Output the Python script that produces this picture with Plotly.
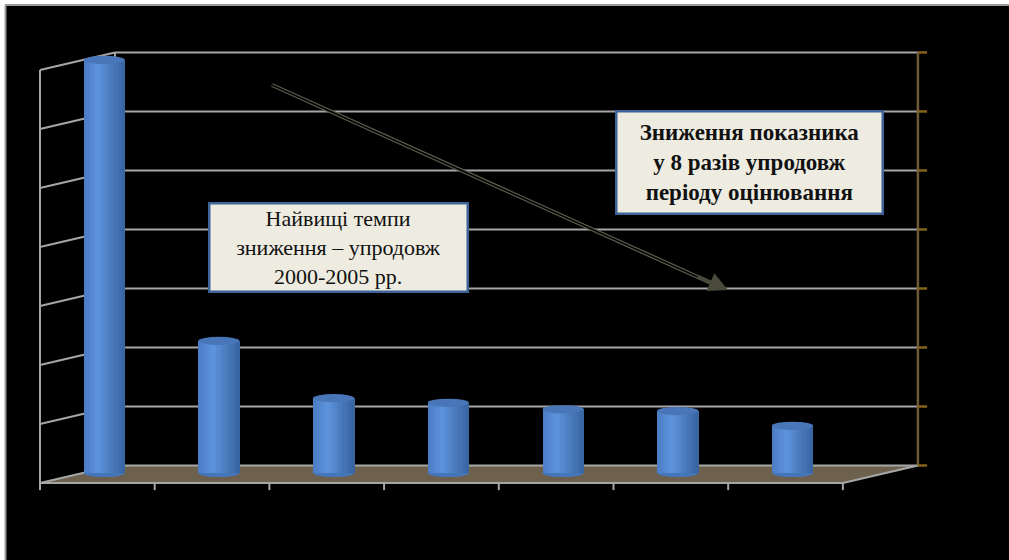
import plotly.graph_objects as go

# ---- data ----
categories = ["2000", "2005", "2008", "2009", "2010", "2011", "2012"]
values = [7.0, 2.24, 1.27, 1.19, 1.08, 1.05, 0.80]
grid_levels = [0, 1, 2, 3, 4, 5, 6, 7]

box1_text = "Найвищі темпи<br>зниження – упродовж<br>2000-2005 рр."
box2_text = "<b>Зниження показника<br>у 8 разів упродовж<br>періоду оцінювання</b>"

# ---- geometry (3D-look frame) ----
DX, DY = 0.654, 0.297      # depth offset of back wall
BASE = 0.17                # bar base level (middle of floor depth)
BAR_W = 0.357
BAR_SHIFT = 0.56
NCAT = len(categories)
XR = [-0.087, 7.803]
YR = [-0.203, 7.508]
ML, MR, MT, MB = 30, 74, 40, 65
W, H = 1009, 560

GRID = "#a6a6a6"
GOLD_LINE = "#6e5a37"
GOLD_TICK = "#846418"
SERIF = "Liberation Serif"

xpos = [i + BAR_SHIFT for i in range(NCAT)]

fig = go.Figure()

def lerp(c1, c2, t):
    return tuple(int(round(a + (b - a) * t)) for a, b in zip(c1, c2))

c_left, c_peak, c_right = (74, 124, 195), (94, 148, 220), (55, 98, 159)
NS = 14
sw = BAR_W / NS
for k in range(NS):
    t = (k + 0.5) / NS
    if t < 0.35:
        col = lerp(c_left, c_peak, t / 0.35)
    else:
        col = lerp(c_peak, c_right, (t - 0.35) / 0.65)
    fig.add_trace(go.Bar(
        x=xpos, y=values, base=[BASE] * NCAT,
        width=sw * 1.15, offset=-BAR_W / 2 + k * sw,
        marker=dict(color="rgb(%d,%d,%d)" % col, line=dict(width=0)),
        showlegend=False, hoverinfo="skip",
    ))

shapes = []
shapes.append(dict(type="path", layer="below",
                   path=f"M 0 0 L {NCAT} 0 L {NCAT+DX} {DY} L {DX} {DY} Z",
                   fillcolor="#6d604d", line=dict(width=0)))
for g in grid_levels:
    shapes.append(dict(type="line", layer="below", x0=DX, x1=NCAT + DX,
                       y0=g + DY, y1=g + DY, line=dict(color=GRID, width=2)))
for g in grid_levels:
    shapes.append(dict(type="line", layer="below", x0=0, x1=DX,
                       y0=g, y1=g + DY, line=dict(color=GRID, width=2)))
shapes.append(dict(type="line", layer="below", x0=0, x1=0, y0=0, y1=grid_levels[-1],
                   line=dict(color=GRID, width=2)))
shapes.append(dict(type="line", layer="below", x0=DX, x1=DX, y0=DY, y1=grid_levels[-1] + DY,
                   line=dict(color=GRID, width=2)))
shapes.append(dict(type="line", layer="below", x0=0, x1=NCAT, y0=0, y1=0,
                   line=dict(color=GRID, width=2)))
shapes.append(dict(type="line", layer="below", x0=NCAT, x1=NCAT + DX, y0=0, y1=DY,
                   line=dict(color=GRID, width=2)))
for i in range(NCAT + 1):
    shapes.append(dict(type="line", layer="below", x0=i, x1=i, y0=0, y1=-0.12,
                       line=dict(color=GRID, width=2)))
shapes.append(dict(type="line", layer="below", x0=NCAT + DX, x1=NCAT + DX,
                   y0=DY, y1=grid_levels[-1] + DY, line=dict(color=GOLD_LINE, width=2.5)))
for g in grid_levels:
    shapes.append(dict(type="line", layer="below", x0=NCAT + DX, x1=NCAT + DX + 0.08,
                       y0=g + DY, y1=g + DY, line=dict(color=GOLD_TICK, width=2.5)))
for xc, v in zip(xpos, values):
    shapes.append(dict(type="circle", layer="below", x0=xc - BAR_W / 2, x1=xc + BAR_W / 2,
                       y0=BASE - 0.07, y1=BASE + 0.07, fillcolor="rgb(70,118,186)",
                       line=dict(width=0)))
    shapes.append(dict(type="circle", layer="above", x0=xc - BAR_W / 2, x1=xc + BAR_W / 2,
                       y0=BASE + v - 0.07, y1=BASE + v + 0.07, fillcolor="rgb(72,118,184)",
                       line=dict(width=0)))

# arrow body
ax0, ay0 = (272 - 40) / 114.7, (483 - 85) / 59
ax1, ay1 = (728 - 40) / 114.7, (483 - 290) / 59
shapes.append(dict(type="line", layer="above", x0=ax0, y0=ay0, x1=ax1 - 0.08, y1=ay1 + 0.06,
                   line=dict(color="#5c5c4c", width=4)))
shapes.append(dict(type="line", layer="above", x0=ax0, y0=ay0, x1=ax1 - 0.08, y1=ay1 + 0.06,
                   line=dict(color="#000000", width=1.5)))

pw = W - ML - MR
ph = H - MT - MB
def px(x):
    return (x - ML) / pw
def py(y):
    return (H - MB - y) / ph
shapes.append(dict(type="rect", xref="paper", yref="paper", x0=px(0), x1=px(W),
                   y0=py(4), y1=py(0), fillcolor="white", line=dict(width=0)))
shapes.append(dict(type="rect", xref="paper", yref="paper", x0=px(0), x1=px(5),
                   y0=py(H), y1=py(0), fillcolor="white", line=dict(width=0)))
shapes.append(dict(type="line", xref="paper", yref="paper", x0=px(5), x1=px(W),
                   y0=py(5), y1=py(5), line=dict(color="#9a9a9a", width=2)))
shapes.append(dict(type="line", xref="paper", yref="paper", x0=px(5.5), x1=px(5.5),
                   y0=py(5), y1=py(H), line=dict(color="#9a9a9a", width=2)))

annotations = [
    dict(x=ax1, y=ay1, ax=ax0 + (ax1 - ax0) * 0.93, ay=ay0 + (ay1 - ay0) * 0.93,
         xref="x", yref="y", axref="x", ayref="y", text="", showarrow=True,
         arrowhead=2, arrowsize=1.1, arrowwidth=3.5, arrowcolor="#4a4a3c"),
    dict(x=(339 - 40) / 114.7, y=(483 - 247.5) / 59, xref="x", yref="y",
         text=box1_text, showarrow=False, align="center",
         font=dict(family=SERIF, size=22, color="#111111"),
         bgcolor="#eeece1", bordercolor="#3d6398", borderwidth=2.5,
         width=256, height=86, borderpad=0, xanchor="center", yanchor="middle"),
    dict(x=(750 - 40) / 114.7, y=(483 - 163) / 59, xref="x", yref="y",
         text=box2_text, showarrow=False, align="center",
         font=dict(family=SERIF, size=23, color="#111111"),
         bgcolor="#eeece1", bordercolor="#3d6398", borderwidth=2.5,
         width=264, height=100, borderpad=0, xanchor="center", yanchor="middle"),
]

fig.update_layout(
    width=W, height=H,
    margin=dict(l=ML, r=MR, t=MT, b=MB),
    paper_bgcolor="black", plot_bgcolor="black",
    barmode="overlay", bargap=0,
    showlegend=False,
    shapes=shapes, annotations=annotations,
    xaxis=dict(range=XR, showgrid=False, zeroline=False, showticklabels=False,
               showline=False, fixedrange=True),
    yaxis=dict(range=YR, showgrid=False, zeroline=False, showticklabels=False,
               showline=False, fixedrange=True),
)

fig.write_html("out.html")
